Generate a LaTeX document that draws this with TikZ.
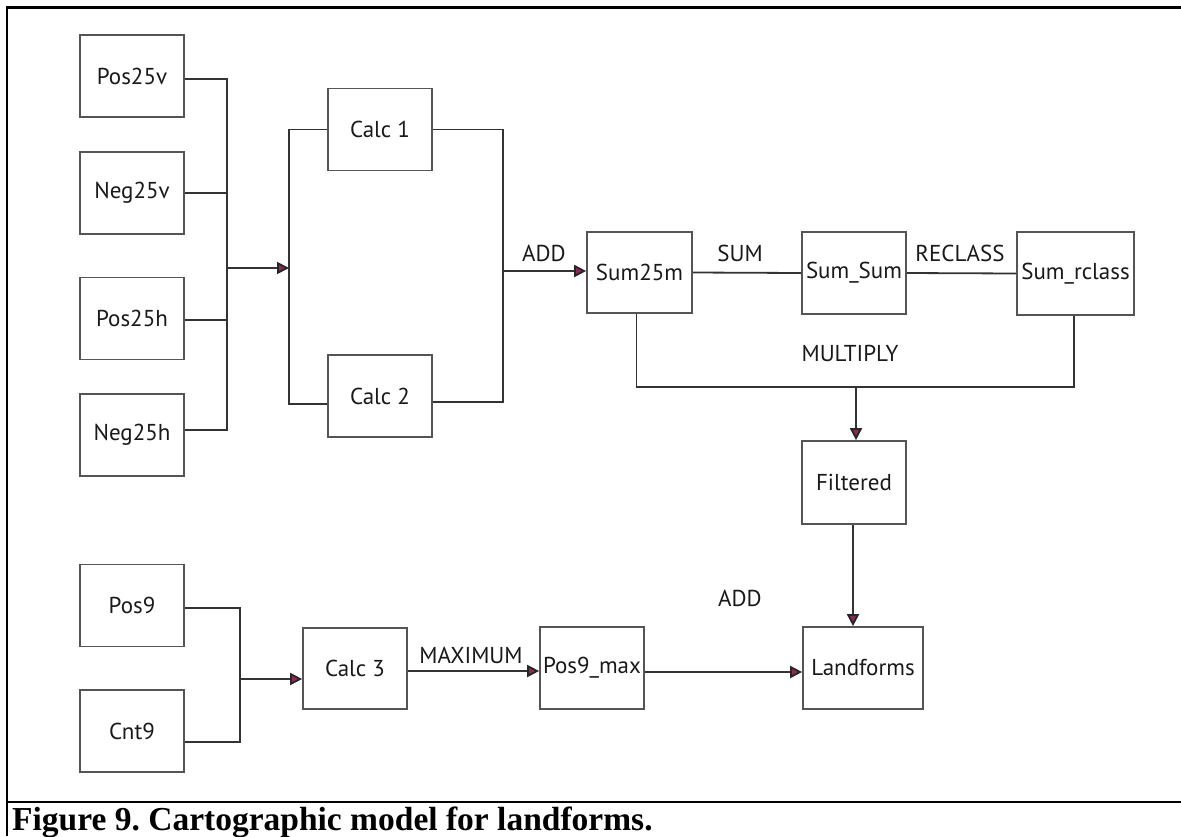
\documentclass[tikz,border=0pt]{standalone}
\usepackage{fontspec}
\setmainfont{PT Sans}
\newfontfamily\capfont{Liberation Serif}
\usetikzlibrary{arrows.meta}
\definecolor{boxgray}{HTML}{555555}
\definecolor{linegray}{HTML}{333333}
\definecolor{tipred}{HTML}{8A2A55}
\frenchspacing
\begin{document}
\begin{tikzpicture}[x=1pt,y=-1pt,
  box/.style={draw=boxgray, line width=1.7pt, inner sep=0pt, minimum width=104pt, minimum height=82pt, font=\fontsize{23}{25}\selectfont, text=black!90},
  conn/.style={draw=linegray, line width=1.8pt},
  arr/.style={conn, -{Triangle[length=12pt,width=12pt,fill=tipred,color=black!85]}},
  lab/.style={inner sep=0pt, font=\fontsize{23}{25}\selectfont, text=black!90},
  frame/.style={draw=black, line width=2.6pt}]
\useasboundingbox (0,0) rectangle (1181,836);
% frame
\draw[frame] (7,836) -- (7,7.5) -- (1181,7.5);
\draw[frame] (7,802) -- (1181,802);
\node[anchor=base west, inner sep=0pt, font=\capfont\bfseries\fontsize{33.5}{36}\selectfont] (cap) at (12,830) {Figure 9. Cartographic model for landforms.};
% boxes
\node[box] (pos25v) at (132,76) {Pos25v};
\node[box] (neg25v) at (132,193) {Neg25v};
\node[box] (pos25h) at (132,318.5) {Pos25h};
\node[box] (neg25h) at (132,435) {Neg25h};
\node[box] (calc1) at (380,129.5) {Calc 1};
\node[box] (calc2) at (380,396) {Calc 2};
\node[box, minimum width=105pt, minimum height=81pt] (sum25m) at (639.5,272.5) {Sum25m};
\node[box] (sumsum) at (854,273) {Sum\_Sum};
\node[box, minimum width=117pt, minimum height=83pt] (sumrclass) at (1075.5,273.5) {Sum\_rclass};
\node[box, minimum height=83pt] (filtered) at (854,482.5) {Filtered};
\node[box] (pos9) at (132,605.5) {Pos9};
\node[box] (cnt9) at (132,731) {Cnt9};
\node[box, minimum height=81pt] (calc3) at (355,668.5) {Calc 3};
\node[box] (pos9max) at (592,668) {Pos9\_max};
\node[box, minimum width=120pt] (landforms) at (863,668) {Landforms};
% junctions
\coordinate (b1) at (227,268);
\coordinate (b2) at (289,268);
\coordinate (b3) at (503,271);
\coordinate (m) at (856,387);
\coordinate (b4) at (240,679);
% left bus
\draw[conn] ([yshift=-3pt]pos25v.east) -| (b1);
\draw[conn] (neg25v.east) -- (neg25v.east -| b1);
\draw[conn] ([yshift=-1.5pt]pos25h.east) -- ([yshift=-1.5pt]pos25h.east -| b1);
\draw[conn] ([yshift=5pt]neg25h.east) -| (b1);
\draw[arr] (b1) -- (b2);
\draw[conn] (calc1.west) -| (b2);
\draw[conn] ([yshift=-8pt]calc2.west) -| (b2);
% second bus
\draw[conn] (calc1.east) -| (b3);
\draw[conn] ([yshift=-6pt]calc2.east) -| (b3);
\draw[arr] (b3) -- (b3 -| sum25m.west);
\node[lab] (add1) at (544,253) {ADD};
\draw[conn] (sum25m.east) -- (sumsum.west);
\node[lab] (sum) at (740,253) {SUM};
\draw[conn] (sumsum.east) -- (sumrclass.west);
\node[lab] (reclass) at (960,253) {RECLASS};
% multiply
\draw[conn] ([xshift=-3pt]sum25m.south) |- (m);
\draw[conn] ([xshift=-1.5pt]sumrclass.south) |- (m);
\node[lab] (multiply) at (850,353) {MULTIPLY};
\draw[arr] (m) -- (m |- filtered.north);
\draw[arr] ([xshift=-1pt]filtered.south) -- ([xshift=-1pt]filtered.south |- landforms.north);
\node[lab] (add2) at (740,598) {ADD};
% bottom
\draw[conn] ([yshift=-2.5pt]pos9.east) -| (b4);
\draw[conn] ([yshift=-11pt]cnt9.east) -| (b4);
\draw[arr] (b4) -- (b4 -| calc3.west);
\draw[arr] ([yshift=-2.5pt]calc3.east) -- ([yshift=-2.5pt]calc3.east -| pos9max.west);
\node[lab] (maximum) at (471,655) {MAXIMUM};
\draw[arr] ([yshift=-4pt]pos9max.east) -- ([yshift=-4pt]pos9max.east -| landforms.west);
\end{tikzpicture}
\end{document}
